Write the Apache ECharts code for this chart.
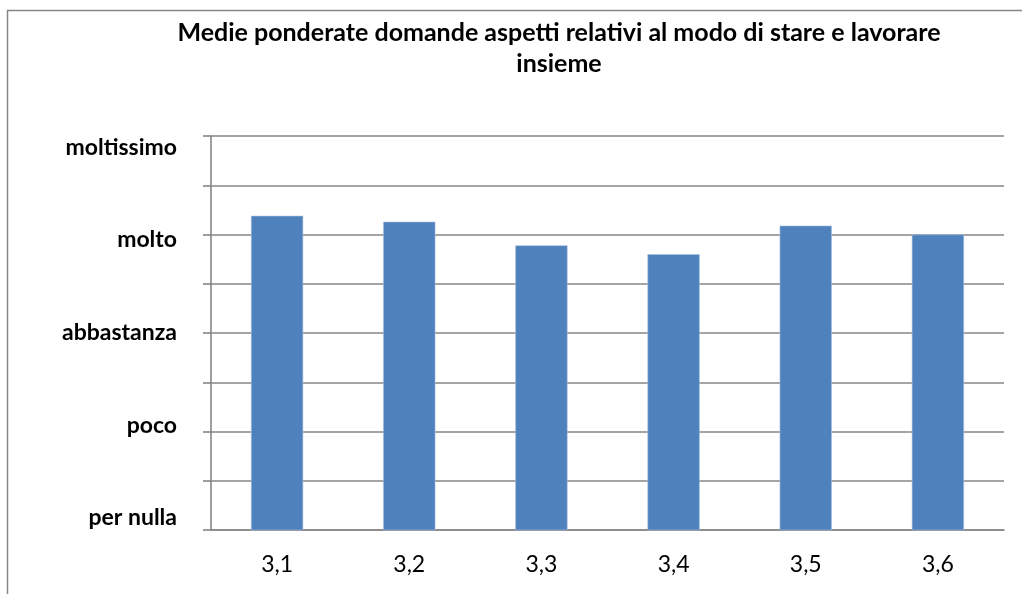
<!DOCTYPE html>
<html>
<head>
<meta charset="utf-8">
<script src="https://cdn.jsdelivr.net/npm/echarts@6/dist/echarts.min.js"></script>
<style>
  html, body { margin: 0; padding: 0; background: #fff; }
  #chart { width: 1022px; height: 594px; }
</style>
</head>
<body>
<div id="chart"></div>
<script>
// dati del grafico
const categories = ['3,1', '3,2', '3,3', '3,4', '3,5', '3,6']
const values = [4.19, 4.13, 3.89, 3.80, 4.09, 4.00]
const levelLabels = ['per nulla', 'poco', 'abbastanza', 'molto', 'moltissimo']
const levelValues = [1, 2, 3, 4, 5]

const chart = echarts.init(document.getElementById('chart'))
const lineGray = '#868686'

const option = {
  animation: false,
  title: {
    text: 'Medie ponderate domande aspetti relativi al modo di stare e lavorare\ninsieme',
    left: 559,
    top: 17,
    padding: 0,
    textAlign: 'center',
    textStyle: {
      fontFamily: 'Lato',
      fontWeight: 'bold',
      fontSize: 25,
      lineHeight: 31,
      color: '#000'
    }
  },
  graphic: [
    {
      type: 'rect',
      shape: { x: 7.5, y: 10.5, width: 2000, height: 2000 },
      style: { fill: 'none', stroke: lineGray, lineWidth: 1.5 },
      silent: true
    }
  ],
  grid: { left: 211, right: 18, top: 136, bottom: 64 },
  xAxis: {
    type: 'category',
    data: categories,
    axisLine: { lineStyle: { color: lineGray, width: 1.6 } },
    axisTick: { length: 7, lineStyle: { color: lineGray, width: 1.6 } },
    axisLabel: {
      margin: 24,
      fontFamily: 'Lato',
      fontSize: 23,
      lineHeight: 22,
      color: '#000'
    }
  },
  yAxis: [
    {
      type: 'value',
      min: 1,
      max: 5,
      interval: 0.5,
      axisLine: { show: true, lineStyle: { color: lineGray, width: 1.6 } },
      axisTick: { show: true, length: 8, lineStyle: { color: lineGray, width: 1.6 } },
      axisLabel: { show: false },
      splitLine: { lineStyle: { color: lineGray, width: 1.6 } }
    },
    {
      // asse solo per le etichette dei livelli
      type: 'value',
      position: 'left',
      min: 0.87,
      max: 5.12,
      axisLine: { show: false },
      axisTick: { show: false },
      splitLine: { show: false },
      axisLabel: {
        customValues: levelValues,
        margin: 34,
        fontFamily: 'Lato',
        fontWeight: 'bold',
        fontSize: 23,
        color: '#000',
        formatter: v => levelLabels[Math.round(v) - 1] || ''
      }
    }
  ],
  series: [
    {
      type: 'bar',
      data: values,
      barWidth: '39.5%',
      itemStyle: {
        color: '#4f81bd',
        borderColor: '#a7bfdf',
        borderWidth: 0.6
      }
    }
  ]
}

chart.setOption(option)
window.addEventListener('resize', () => chart.resize())
</script>
</body>
</html>
